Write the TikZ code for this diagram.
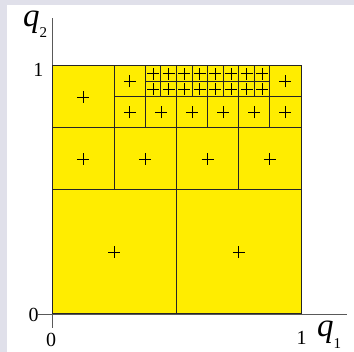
\documentclass[tikz,border=0pt]{standalone}
\usepackage{fontspec}
\setmainfont{Liberation Serif}
\definecolor{cellyellow}{RGB}{255,237,0}
\definecolor{framegray}{RGB}{224,224,234}
\begin{document}
\begin{tikzpicture}[x=1pt,y=1pt,
  cell/.style={draw=black!85,line width=1pt},
  plusmark/.style={draw=black,line width=0.85pt},
  axisline/.style={draw=black!65,line width=0.8pt},
  ticklabel/.style={inner sep=0pt,anchor=base,font=\fontsize{20}{20}\selectfont},
  qlabel/.style={inner sep=0pt,anchor=base west,font=\fontsize{33}{33}\selectfont\itshape}]
\useasboundingbox (0,0) rectangle (354,352);
\fill[white] (0,0) rectangle (354,352);
\fill[framegray] (0,0) rectangle (7,352);
\fill[framegray] (0,347) rectangle (354,352);
% axes
\coordinate (xstart) at (38,38);
\coordinate (xend) at (347,38);
\coordinate (ystart) at (52,24);
\coordinate (yend) at (52,334);
\draw[axisline] (xstart) -- (xend);
\draw[axisline] (ystart) -- (yend);
\begin{scope}[shift={(52,38)},x=249pt,y=248pt]
\fill[cellyellow] (0,0) rectangle (1,1);
\foreach \a/\b/\s in {0/0/0.5, 0.5/0/0.5,
  0/0.5/0.25, 0.25/0.5/0.25, 0.5/0.5/0.25, 0.75/0.5/0.25,
  0/0.75/0.25,
  0.25/0.75/0.125, 0.375/0.75/0.125, 0.5/0.75/0.125, 0.625/0.75/0.125, 0.75/0.75/0.125, 0.875/0.75/0.125,
  0.25/0.875/0.125, 0.875/0.875/0.125,
  0.375/0.875/0.0625, 0.4375/0.875/0.0625, 0.5/0.875/0.0625, 0.5625/0.875/0.0625,
  0.625/0.875/0.0625, 0.6875/0.875/0.0625, 0.75/0.875/0.0625, 0.8125/0.875/0.0625,
  0.375/0.9375/0.0625, 0.4375/0.9375/0.0625, 0.5/0.9375/0.0625, 0.5625/0.9375/0.0625,
  0.625/0.9375/0.0625, 0.6875/0.9375/0.0625, 0.75/0.9375/0.0625, 0.8125/0.9375/0.0625}
{
  \draw[cell] (\a,\b) rectangle ++(\s,\s);
  \draw[plusmark] (\a+\s/2,\b+\s/2) ++(-6pt,0) -- ++(12pt,0) ++(-6pt,-6pt) -- ++(0,12pt);
}
\end{scope}
% labels
\node[qlabel] (q2label) at (23,325) {q\raisebox{-11pt}{\fontsize{15}{15}\selectfont\upshape 2}};
\node[qlabel] (q1label) at (317,15) {q\raisebox{-12pt}{\fontsize{15}{15}\selectfont\upshape 1}};
\node[ticklabel] (yone) at (38.5,275) {1};
\node[ticklabel] (yzero) at (33.5,30.5) {0};
\node[ticklabel] (xzero) at (51,5) {0};
\node[ticklabel] (xone) at (301.5,7) {1};
\end{tikzpicture}
\end{document}
